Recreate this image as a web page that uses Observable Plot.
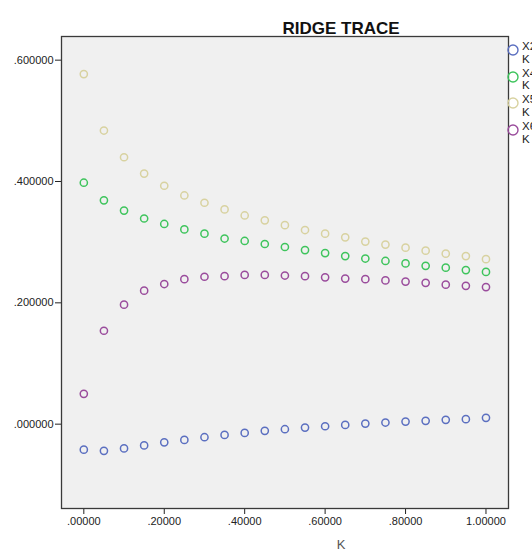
<!DOCTYPE html>
<html>
<head>
<meta charset="utf-8">
<script src="https://cdn.jsdelivr.net/npm/d3@7"></script>
<script src="https://cdn.jsdelivr.net/npm/@observablehq/plot@0.6"></script>
<style>
  body { margin: 0; background: #fff; }
  #wrap { position: relative; width: 532px; height: 554px; overflow: hidden; font-family: "Liberation Sans", Arial, sans-serif; }
  #legend { position: absolute; left: 506px; top: 43px; }
  .item { position: relative; height: 26.7px; }
  .item svg { position: absolute; left: 0; top: 0; }
  .item .lab { position: absolute; left: 16px; top: -3px; font-size: 11.5px; line-height: 12.5px; color: #222; }
</style>
</head>
<body>
<div id="wrap"></div>
<script>
const kValues = [0,0.05,0.1,0.15,0.2,0.25,0.3,0.35,0.4,0.45,0.5,0.55,0.6,0.65,0.7,0.75,0.8,0.85,0.9,0.95,1.0];
const x2 = [-0.042,-0.044,-0.040,-0.035,-0.030,-0.026,-0.0215,-0.0177,-0.0144,-0.011,-0.0083,-0.0056,-0.0034,-0.0012,0.001,0.0027,0.0043,0.0055,0.0071,0.0082,0.0104];
const x4 = [0.398,0.369,0.352,0.339,0.330,0.321,0.314,0.306,0.302,0.297,0.292,0.287,0.282,0.277,0.273,0.269,0.265,0.261,0.258,0.254,0.251];
const x5 = [0.577,0.484,0.440,0.413,0.393,0.377,0.365,0.354,0.344,0.336,0.328,0.320,0.314,0.308,0.301,0.296,0.291,0.286,0.281,0.277,0.272];
const x6 = [0.050,0.154,0.197,0.220,0.231,0.239,0.243,0.244,0.246,0.246,0.245,0.244,0.242,0.240,0.239,0.237,0.235,0.233,0.230,0.228,0.226];
const seriesNames = ["X2", "X4", "X5", "X6"];
const seriesColors = ["#5b6fc0", "#3ec45c", "#d8d2a0", "#9a4c9c"];
const xTicks = [0, 0.2, 0.4, 0.6, 0.8, 1.0];
const yTicks = [0, 0.2, 0.4, 0.6];
const titleText = "RIDGE TRACE";
const xLabel = "K";

const seriesValues = [x2, x4, x5, x6];
const data = [];
seriesNames.forEach((name, i) => {
  kValues.forEach((k, j) => data.push({k, v: seriesValues[i][j], s: name}));
});

const fmtX = d => d === 1 ? "1.00000" : d.toFixed(5).replace(/^0/, "");
const fmtY = d => d.toFixed(6).replace(/^0/, "");

const chart = Plot.plot({
  width: 532,
  height: 554,
  marginLeft: 61,
  marginTop: 36,
  marginRight: 24,
  marginBottom: 46,
  style: { fontFamily: "'Liberation Sans', Arial, sans-serif", fontSize: "11px", color: "#222", background: "transparent" },
  x: { domain: [-0.0555, 1.056], ticks: xTicks, tickFormat: fmtX, tickSize: 6, tickPadding: 3, label: null },
  y: { domain: [-0.139, 0.639], ticks: yTicks, tickFormat: fmtY, tickSize: 6, tickPadding: 2, label: null },
  color: { domain: seriesNames, range: seriesColors },
  marks: [
    Plot.frame({ fill: "#f0f0f0", stroke: "none" }),
    Plot.dot(data, { x: "k", y: "v", stroke: "s", r: 3.6, strokeWidth: 1.5, fill: "none" }),
    Plot.frame({ stroke: "#3a3a3a", strokeWidth: 1.3 }),
    Plot.text([titleText], { frameAnchor: "top", dx: 56, dy: -15, fontSize: 17, fontWeight: "bold", fill: "#111" }),
    Plot.text([xLabel], { frameAnchor: "bottom", dx: 56, dy: 40, fontSize: 13, fill: "#555" })
  ]
});
document.getElementById("wrap").appendChild(chart);

const legend = document.createElement("div");
legend.id = "legend";
seriesNames.forEach((name, i) => {
  const item = document.createElement("div");
  item.className = "item";
  item.innerHTML = `<svg width="14" height="14"><circle cx="7" cy="7" r="5" fill="none" stroke="${seriesColors[i]}" stroke-width="1.4"/></svg><div class="lab">${name}<br>K</div>`;
  legend.appendChild(item);
});
document.getElementById("wrap").appendChild(legend);
</script>
</body>
</html>
